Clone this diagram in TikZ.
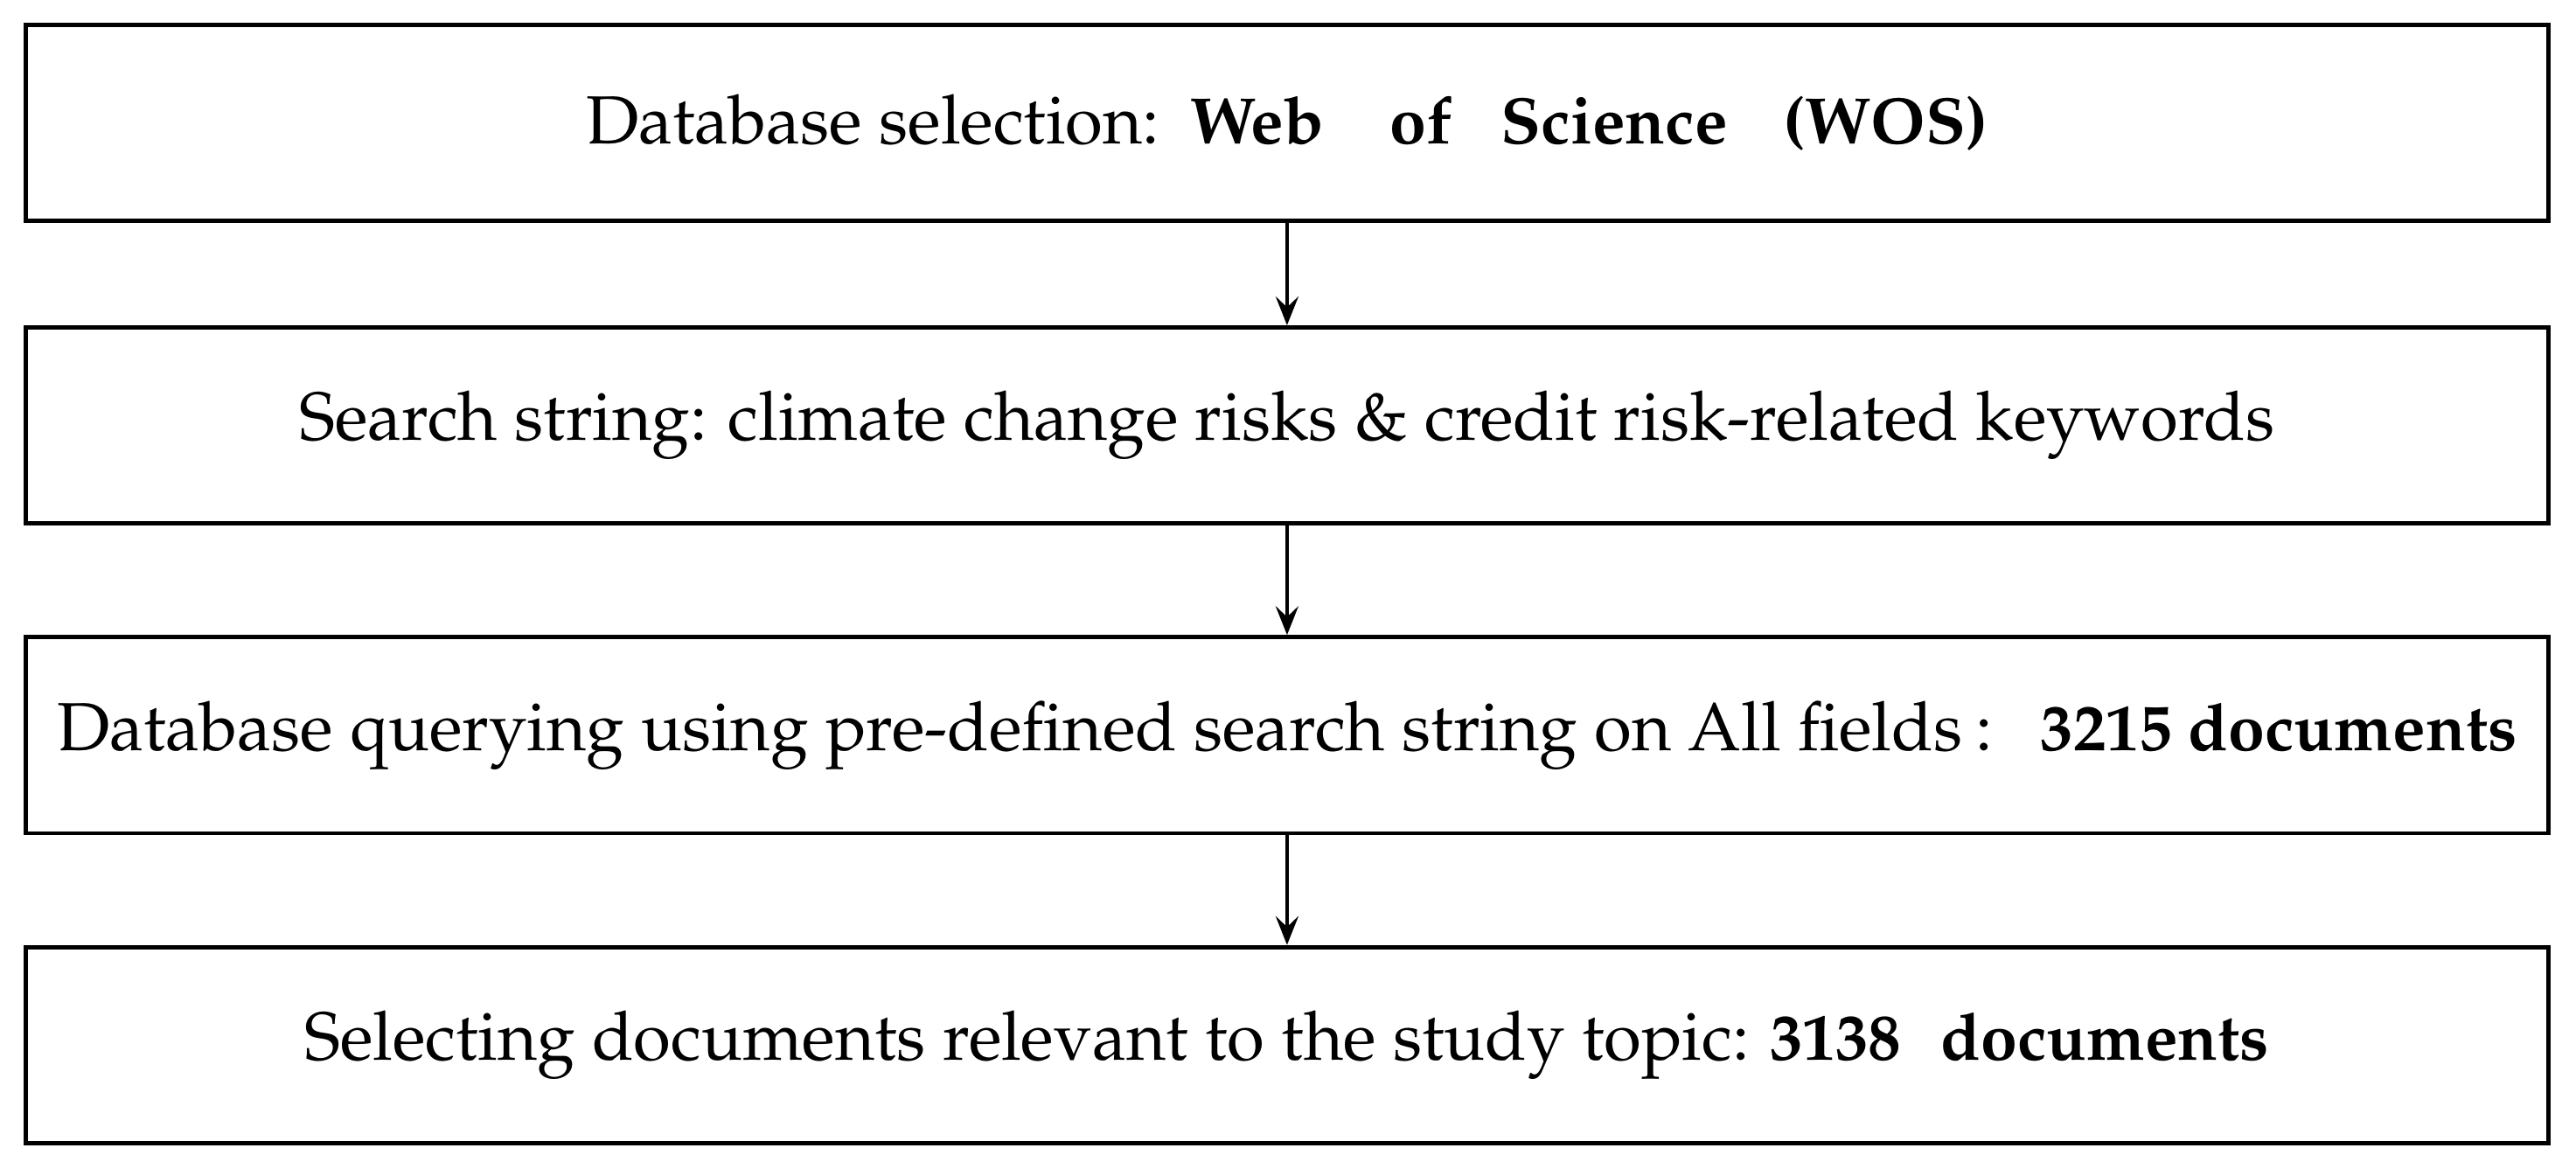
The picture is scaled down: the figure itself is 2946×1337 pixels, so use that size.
\documentclass[tikz,border=0pt,12pt]{standalone}
\usepackage[T1]{fontenc}
\usepackage{mathpazo}
\usetikzlibrary{arrows.meta}
\newcommand{\boldpart}[1]{{\fontsize{11.0}{13.5}\selectfont\bfseries #1}}
\tikzset{
  stepbox/.style={draw=black, line width=0.7pt, rectangle, minimum width=422.1pt,
    minimum height=32.85pt, inner sep=0pt, align=center, font=\fontsize{11.4}{13.5}\selectfont},
  flowarrow/.style={line width=0.7pt, -{Stealth[length=4.8pt, width=3.8pt, inset=1.8pt]}}
}
\begin{document}
\begin{tikzpicture}[x=0.14631pt, y=-0.14631pt]
\useasboundingbox (0,0) rectangle (2946,1337);
\node[stepbox] (b1) at (1471.9,140.65) {Database selection:\hspace{0.45em}\boldpart{Web\hspace{1.0em}of\hspace{0.75em}Science\hspace{0.85em}(WOS)}};
\node[stepbox] (b2) at (1471.9,486.65) {Search string: climate change risks \& credit risk-related keywords};
\node[stepbox] (b3) at (1471.9,840.85) {Database querying using pre-defined search string on All fields\hspace{0.2em}:\hspace{0.7em}\boldpart{3215 documents}};
\node[stepbox] (b4) at (1471.9,1195.4) {Selecting documents relevant to the study topic:\hspace{0.3em}\boldpart{3138\hspace{0.6em}documents}};
\draw[flowarrow] (b1.south) -- (b2.north);
\draw[flowarrow] (b2.south) -- (b3.north);
\draw[flowarrow] (b3.south) -- (b4.north);
\end{tikzpicture}
\end{document}
